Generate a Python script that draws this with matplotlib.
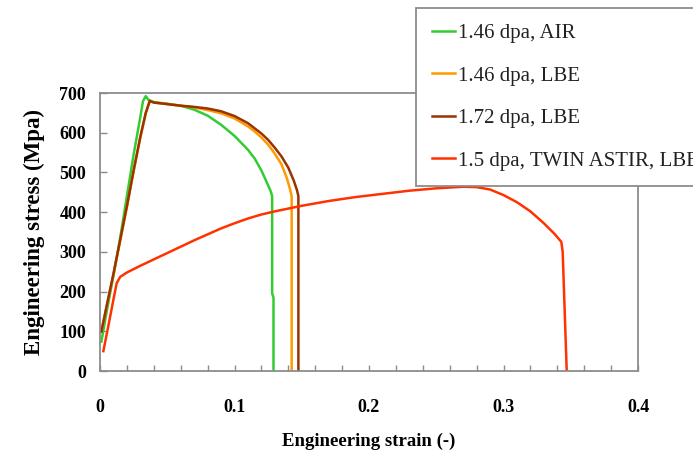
import numpy as np
import matplotlib
matplotlib.use('Agg')
import matplotlib.pyplot as plt

plt.rcParams['font.family'] = ['Liberation Serif', 'DejaVu Serif']

# 1.46 dpa, AIR
air_strain = [0.001, 0.005, 0.01, 0.015, 0.02, 0.025, 0.03, 0.032, 0.034, 0.036, 0.04,
              0.05, 0.06, 0.07, 0.08, 0.09, 0.10, 0.11, 0.115, 0.12, 0.124, 0.127,
              0.128, 0.128, 0.129, 0.129]
air_stress = [74, 150, 240, 335, 440, 545, 640, 680, 692, 683, 677,
              673, 668, 658, 643, 620, 592, 557, 535, 505, 475, 452,
              440, 195, 185, 0]

# 1.46 dpa, LBE
lbe146_strain = [0.001, 0.005, 0.01, 0.015, 0.02, 0.025, 0.03, 0.034, 0.037, 0.04, 0.05,
                 0.06, 0.07, 0.08, 0.09, 0.10, 0.11, 0.115, 0.12, 0.125, 0.13, 0.135,
                 0.139, 0.1415, 0.1425, 0.1425]
lbe146_stress = [99, 163, 242, 328, 413, 503, 588, 648, 680, 676, 672,
                 668, 664, 657, 649, 636, 616, 603, 588, 570, 547, 520,
                 485, 455, 440, 0]

# 1.72 dpa, LBE
lbe172_strain = [0.001, 0.005, 0.01, 0.015, 0.02, 0.025, 0.03, 0.034, 0.037, 0.04, 0.05,
                 0.06, 0.07, 0.08, 0.09, 0.10, 0.11, 0.12, 0.125, 0.13, 0.135, 0.14,
                 0.144, 0.1465, 0.1475, 0.1475]
lbe172_stress = [99, 165, 245, 330, 415, 505, 590, 650, 680, 676, 672,
                 668, 665, 661, 654, 642, 624, 598, 582, 562, 540, 512,
                 480, 455, 440, 0]

# 1.5 dpa, TWIN ASTIR, LBE
twin_strain = [0.0025, 0.006, 0.01, 0.0124, 0.015, 0.02, 0.03, 0.04, 0.05, 0.06, 0.07,
               0.08, 0.09, 0.10, 0.11, 0.12, 0.13, 0.14, 0.15, 0.16, 0.17, 0.18,
               0.19, 0.20, 0.21, 0.22, 0.23, 0.24, 0.25, 0.26, 0.27, 0.28, 0.29,
               0.30, 0.31, 0.32, 0.33, 0.338, 0.343, 0.344, 0.345, 0.346, 0.347]
twin_stress = [50, 110, 180, 221, 237, 248, 265, 281, 297, 313, 329,
               344, 359, 372, 384, 394, 402, 409, 416, 422, 428, 433,
               438, 442, 446, 450, 454, 457, 460, 462, 464, 463, 457,
               443, 425, 402, 372, 345, 325, 300, 200, 100, 0]

series = [
    ('1.46 dpa, AIR', air_strain, air_stress, '#33CC33'),
    ('1.46 dpa, LBE', lbe146_strain, lbe146_stress, '#FF9900'),
    ('1.72 dpa, LBE', lbe172_strain, lbe172_stress, '#993300'),
    ('1.5 dpa, TWIN ASTIR, LBE', twin_strain, twin_stress, '#FF3300'),
]

x_ticks = [0, 0.1, 0.2, 0.3, 0.4]
x_ticklabels = ['0', '0.1', '0.2', '0.3', '0.4']
y_ticks = [0, 100, 200, 300, 400, 500, 600, 700]

fig = plt.figure(figsize=(6.93, 4.59), dpi=100)
ax = fig.add_axes([100 / 693, 1 - 371 / 459, 538 / 693, 278 / 459])

for label, xs, ys, col in series:
    ax.plot(xs, ys, color=col, linewidth=1.8, label=label)

ax.set_xlim(0, 0.4)
ax.set_ylim(0, 700)
ax.set_xticks(x_ticks)
ax.set_xticklabels(x_ticklabels)
ax.set_xticks(np.arange(0, 0.401, 0.02), minor=True)
ax.set_yticks(y_ticks)

for sp in ax.spines.values():
    sp.set_color('#8c8c8c')
    sp.set_linewidth(1.3)

ax.tick_params(axis='x', which='both', direction='in', length=4, width=1, color='#8c8c8c',
               pad=20, labelsize=13)
ax.tick_params(axis='y', which='both', direction='in', length=5, width=1, color='#8c8c8c',
               pad=10, labelsize=13)
for t in ax.get_xticklabels() + ax.get_yticklabels():
    t.set_fontweight('bold')

ax.set_xlabel('Engineering strain (-)', fontsize=13.5, fontweight='bold', labelpad=12)
ax.set_ylabel('Engineering stress (Mpa)', fontsize=16.5, fontweight='bold', labelpad=10)

# legend runs off the right edge, as in the original figure
leg = ax.legend(loc='upper left', bbox_to_anchor=(416 / 693, 1 - 8 / 459),
                bbox_transform=fig.transFigure, borderaxespad=0, fontsize=15,
                handlelength=1.1, handletextpad=0.15, borderpad=0.75,
                labelspacing=1.1, fancybox=False, framealpha=1)
leg.get_frame().set_edgecolor('#8c8c8c')
leg.get_frame().set_linewidth(1.3)
for t in leg.get_texts():
    t.set_color('#222222')

fig.savefig('out.png', dpi=100)
